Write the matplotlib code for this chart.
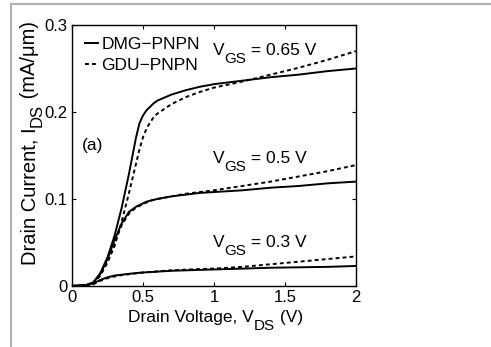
import matplotlib
matplotlib.use("Agg")
import matplotlib.pyplot as plt
from matplotlib.lines import Line2D

fam = "Liberation Sans"
plt.rcParams['font.family'] = [fam, 'DejaVu Sans']

# ---- data ----
vds = [0, 0.1, 0.15, 0.2, 0.25, 0.3, 0.35, 0.4, 0.45, 0.475, 0.5, 0.525, 0.55, 0.575,
       0.6, 0.7, 0.8, 0.9, 1.0, 1.2, 1.4, 1.6, 1.8, 2.0]
dmg_065 = [0, 0.001, 0.004, 0.015, 0.033, 0.058, 0.090, 0.128, 0.170, 0.187, 0.196,
           0.202, 0.206, 0.210, 0.213, 0.220, 0.225, 0.229, 0.232, 0.236, 0.240, 0.243,
           0.247, 0.250]
gdu_065 = [0, 0.001, 0.003, 0.012, 0.027, 0.046, 0.074, 0.106, 0.140, 0.157, 0.171,
           0.181, 0.188, 0.194, 0.198, 0.209, 0.217, 0.223, 0.228, 0.235, 0.243, 0.251,
           0.260, 0.270]
dmg_05 = [0, 0.001, 0.004, 0.014, 0.031, 0.053, 0.072, 0.085, 0.091, 0.093, 0.095,
          0.097, 0.098, 0.099, 0.100, 0.103, 0.105, 0.107, 0.108, 0.110, 0.113, 0.115,
          0.118, 0.120]
gdu_05 = [0, 0.001, 0.003, 0.013, 0.029, 0.050, 0.070, 0.083, 0.090, 0.092, 0.094,
          0.096, 0.098, 0.099, 0.100, 0.103, 0.106, 0.108, 0.110, 0.115, 0.120, 0.126,
          0.132, 0.139]
dmg_03 = [0, 0.001, 0.003, 0.007, 0.010, 0.012, 0.013, 0.014, 0.0148, 0.0152, 0.0155,
          0.0158, 0.016, 0.0162, 0.0165, 0.0175, 0.018, 0.0185, 0.019, 0.020, 0.021,
          0.0215, 0.022, 0.023]
gdu_03 = [0, 0.001, 0.002, 0.006, 0.009, 0.011, 0.0125, 0.0135, 0.0145, 0.015, 0.0155,
          0.0158, 0.016, 0.0164, 0.0168, 0.018, 0.0188, 0.0195, 0.020, 0.022, 0.025,
          0.028, 0.031, 0.034]
labels = ["DMG\u2212PNPN", "GDU\u2212PNPN"]
vgs_labels = ["0.65", "0.5", "0.3"]
xticks = [0, 0.5, 1, 1.5, 2]
xticklabels = ["0", "0.5", "1", "1.5", "2"]
yticks = [0, 0.1, 0.2, 0.3]
yticklabels = ["0", "0.1", "0.2", "0.3"]

fig = plt.figure(figsize=(4.91, 3.47), dpi=100)
# grey frame
fig.add_artist(Line2D([11/491, 1], [1-4/347, 1-4/347], color='#b0b0b0', lw=1.5))
fig.add_artist(Line2D([11/491, 11/491], [0, 1-4/347], color='#b0b0b0', lw=1.5))

ax = fig.add_axes([72/491, 1-286/347, 284/491, 261/347])
solid = dict(color='black', lw=1.4, ls='-')
dash = dict(color='black', lw=1.4, ls=(0, (2.0, 1.6)))
ax.plot(vds, dmg_065, label=labels[0], **solid)
ax.plot(vds, gdu_065, label=labels[1], **dash)
ax.plot(vds, dmg_05, **solid)
ax.plot(vds, gdu_05, **dash)
ax.plot(vds, dmg_03, **solid)
ax.plot(vds, gdu_03, **dash)

ax.set_xlim(0, 2)
ax.set_ylim(0, 0.3)
ax.set_xticks(xticks, xticklabels)
ax.set_yticks(yticks, yticklabels)
ax.tick_params(direction='in', top=True, right=True, labelsize=12, length=3, pad=3)
for s in ax.spines.values():
    s.set_linewidth(1.0)

fs = 12.5
fsub = 11


def vgs_label(x, y, val):
    t1 = ax.text(x, y, 'V', fontsize=fs, ha='left', va='baseline')
    t2 = ax.annotate('GS', xy=(1, y), xycoords=(t1, 'data'), xytext=(0.3, -5.5),
                     textcoords='offset points', fontsize=fsub, ha='left', va='baseline')
    ax.annotate(' = ' + val + ' V', xy=(1, y), xycoords=(t2, 'data'), xytext=(0, 0),
                textcoords='offset points', fontsize=fs, ha='left', va='baseline')


vgs_label(0.99, 0.2655, vgs_labels[0])
vgs_label(0.99, 0.1414, vgs_labels[1])
vgs_label(0.99, 0.0448, vgs_labels[2])
ax.text(0.07, 0.162, '(a)', fontsize=fs, ha='left', va='center')

ax.legend(loc='upper left', bbox_to_anchor=(0.033, 0.967), frameon=False, fontsize=fs,
          handlelength=0.75, handletextpad=0.2, borderaxespad=0.0, labelspacing=0.35,
          borderpad=0.2)

# x label: Drain Voltage, V_DS (V)
fx = 12.5
bx, byl = (128 - 72) / 284, (286 - 322) / 261
x1 = ax.text(bx, byl, 'Drain Voltage, V', transform=ax.transAxes, fontsize=fx,
             ha='left', va='baseline')
x2 = ax.annotate('DS', xy=(1, byl), xycoords=(x1, 'axes fraction'), xytext=(0.3, -6),
                 textcoords='offset points', fontsize=11, ha='left', va='baseline')
ax.annotate(' (V)', xy=(1, byl), xycoords=(x2, 'axes fraction'), xytext=(0, 0),
            textcoords='offset points', fontsize=fx, ha='left', va='baseline')

# y label: Drain Current, I_DS (mA/μm)
fy = 14.5
yb_x, yb_y = (35 - 72) / 284, (286 - 265) / 261
y1 = ax.text(yb_x, yb_y, 'Drain Current, I', transform=ax.transAxes, fontsize=fy,
             rotation=90, rotation_mode='anchor', ha='left', va='baseline')
y2 = ax.annotate('DS', xy=(yb_x, 1), xycoords=('axes fraction', y1), xytext=(5, 0.5),
                 textcoords='offset points', fontsize=12, rotation=90,
                 rotation_mode='anchor', ha='left', va='baseline')
ax.annotate(' (mA/\u03bcm)', xy=(yb_x, 1), xycoords=('axes fraction', y2), xytext=(0, 0),
            textcoords='offset points', fontsize=fy, rotation=90,
            rotation_mode='anchor', ha='left', va='baseline')

fig.savefig('out.png', dpi=100)
